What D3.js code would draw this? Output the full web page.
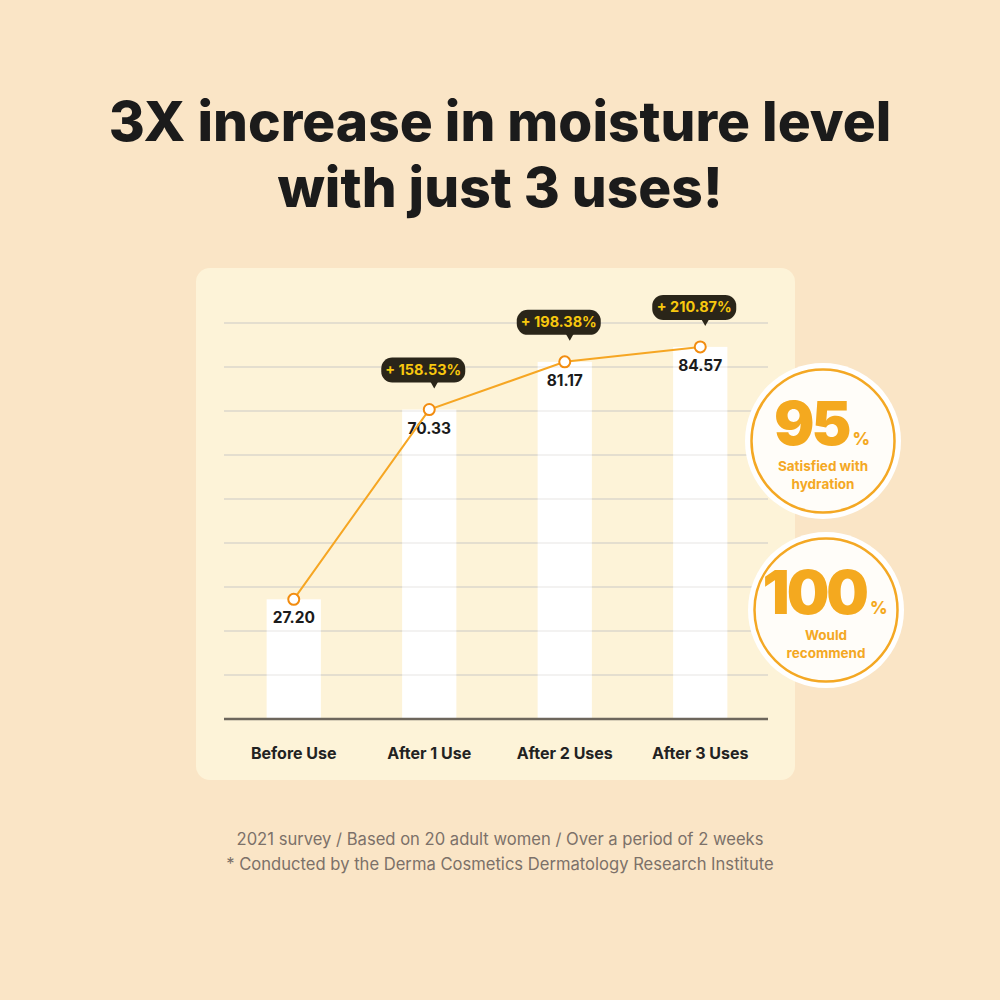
<!DOCTYPE html>
<html><head><meta charset="utf-8">
<script src="https://cdn.jsdelivr.net/npm/d3@7"></script>
<style>
html,body{margin:0;padding:0;background:#fae5c6;}
svg{display:block;}
</style></head>
<body>
<svg id="chart" width="1000" height="1000"></svg>
<script>
const titleLines = ["3X increase in moisture level", "with just 3 uses!"];
const categories = ["Before Use", "After 1 Use", "After 2 Uses", "After 3 Uses"];
const values = [27.20, 70.33, 81.17, 84.57];
const valueLabels = ["27.20", "70.33", "81.17", "84.57"];
const increaseLabels = [null, "+ 158.53%", "+ 198.38%", "+ 210.87%"];
const gridTicks = [10, 20, 30, 40, 50, 60, 70, 80, 90];
const statValues = ["95", "100"];
const statTexts = [["Satisfied with", "hydration"], ["Would", "recommend"]];
const footnotes = ["2021 survey / Based on 20 adult women / Over a period of 2 weeks",
                   "* Conducted by the Derma Cosmetics Dermatology Research Institute"];

const svg = d3.select("#chart");
const W = 1000, H = 1000;
svg.append("rect").attr("width", W).attr("height", H).attr("fill", "#fae5c6");

// title
svg.append("g").selectAll("text").data(titleLines).join("text")
  .attr("x", 500).attr("y", (d, i) => 141 + i * 66)
  .attr("text-anchor", "middle")
  .attr("font-family", "Inter, 'Noto Sans', sans-serif")
  .attr("font-weight", 800).attr("font-size", 55)
  .attr("fill", "#1b1b1b")
  .text(d => d);

// panel
svg.append("rect").attr("x", 196).attr("y", 268).attr("width", 599).attr("height", 512)
  .attr("rx", 14).attr("fill", "#fdf3d8");

const x = d3.scaleBand().domain(categories).range([226, 768]).paddingInner(0.6).paddingOuter(0.3);
const y = d3.scaleLinear().domain([0, 90]).range([719, 323]);
const cx = d => x(d) + x.bandwidth() / 2;

// gridlines under bars
const g = svg.append("g");
g.selectAll("line.grid").data(gridTicks).join("line")
  .attr("x1", 224).attr("x2", 768)
  .attr("y1", d => y(d)).attr("y2", d => y(d))
  .attr("stroke", "#ddd5c2").attr("stroke-width", 1.5);

// bars
g.selectAll("rect.bar").data(values).join("rect")
  .attr("x", (d, i) => x(categories[i]))
  .attr("width", x.bandwidth())
  .attr("y", d => y(d))
  .attr("height", d => y(0) - y(d))
  .attr("fill", "#ffffff");

// gridlines through bars (light)
g.selectAll("line.gridOver").data(gridTicks).join("line")
  .attr("x1", 224).attr("x2", 768)
  .attr("y1", d => y(d)).attr("y2", d => y(d))
  .attr("stroke", "#e4e2de").attr("stroke-width", 1.2).attr("opacity", 0.8);

// baseline
g.append("line").attr("x1", 224).attr("x2", 768).attr("y1", y(0)).attr("y2", y(0))
  .attr("stroke", "#6d665c").attr("stroke-width", 2.5);

// category labels
g.selectAll("text.cat").data(categories).join("text")
  .attr("x", d => cx(d)).attr("y", 759)
  .attr("text-anchor", "middle")
  .attr("font-family", "Inter, 'Noto Sans', sans-serif")
  .attr("font-weight", 700).attr("font-size", 16)
  .attr("fill", "#222").text(d => d);

// value labels
g.selectAll("text.val").data(values).join("text")
  .attr("x", (d, i) => cx(categories[i])).attr("y", d => y(d) + 24)
  .attr("text-anchor", "middle")
  .attr("font-family", "Inter, 'Noto Sans', sans-serif")
  .attr("font-weight", 700).attr("font-size", 15.5)
  .attr("fill", "#1b1b1b").text((d, i) => valueLabels[i]);

// line
const line = d3.line().x((d, i) => cx(categories[i])).y(d => y(d));
g.append("path").datum(values).attr("d", line)
  .attr("fill", "none").attr("stroke", "#f6a623").attr("stroke-width", 2);
g.selectAll("circle.pt").data(values).join("circle")
  .attr("cx", (d, i) => cx(categories[i])).attr("cy", d => y(d)).attr("r", 5.5)
  .attr("fill", "#fff").attr("stroke", "#f28c0f").attr("stroke-width", 2);

// callouts
const callouts = g.selectAll("g.callout").data(values.map((v, i) => ({v, i})).filter(d => increaseLabels[d.i]))
  .join("g");
callouts.each(function(d) {
  const sel = d3.select(this);
  const px = cx(categories[d.i]);
  const bottom = y(d.v) - 27;
  const w = 84, h = 25;
  const left = px - 6 - w / 2;
  sel.append("rect").attr("x", left).attr("y", bottom - h).attr("width", w).attr("height", h)
    .attr("rx", 11).attr("fill", "#2a2519");
  sel.append("path")
    .attr("d", `M${px + 1},${bottom - 1} L${px + 9},${bottom - 1} L${px + 5},${bottom + 6} Z`)
    .attr("fill", "#2a2519");
  sel.append("text").attr("x", left + w / 2).attr("y", bottom - h / 2 + 5)
    .attr("text-anchor", "middle")
    .attr("font-family", "Inter, 'Noto Sans', sans-serif")
    .attr("font-weight", 700).attr("font-size", 14.5)
    .attr("fill", "#f8c80e").text(increaseLabels[d.i]);
});

// stat circles
const statPos = [{x: 823, y: 441}, {x: 826, y: 610}];
const sg = svg.append("g").selectAll("g").data(statValues).join("g")
  .attr("transform", (d, i) => `translate(${statPos[i].x},${statPos[i].y})`);
sg.append("circle").attr("r", 78).attr("fill", "#ffffff");
sg.append("circle").attr("r", 71.5).attr("fill", "#fffdf9").attr("stroke", "#f4a824").attr("stroke-width", 2.5);
sg.append("text").attr("x", -1).attr("y", 4)
  .attr("text-anchor", "middle")
  .attr("font-family", "Inter, 'Noto Sans', sans-serif")
  .attr("font-weight", 900).attr("font-size", 60).attr("letter-spacing", -3)
  .attr("fill", "#f4a91f")
  .each(function(d) {
    const t = d3.select(this);
    t.append("tspan").text(d);
    t.append("tspan").attr("font-size", 17).attr("font-weight", 800).attr("letter-spacing", 0).attr("dx", 4).text("%");
  });
sg.each(function(d, i) {
  d3.select(this).selectAll("text.sub").data(statTexts[i]).join("text")
    .attr("x", 0).attr("y", (t, j) => 30 + j * 18)
    .attr("text-anchor", "middle")
    .attr("font-family", "Inter, 'Noto Sans', sans-serif")
    .attr("font-weight", 700).attr("font-size", 13.5)
    .attr("fill", "#f4a824").text(t => t);
});

// footnotes
svg.append("g").selectAll("text").data(footnotes).join("text")
  .attr("x", 500).attr("y", (d, i) => 845 + i * 25)
  .attr("text-anchor", "middle")
  .attr("font-family", "Inter, 'Noto Sans', sans-serif")
  .attr("font-size", 16.6).attr("fill", "#7c7169")
  .text(d => d);
</script>
</body></html>
